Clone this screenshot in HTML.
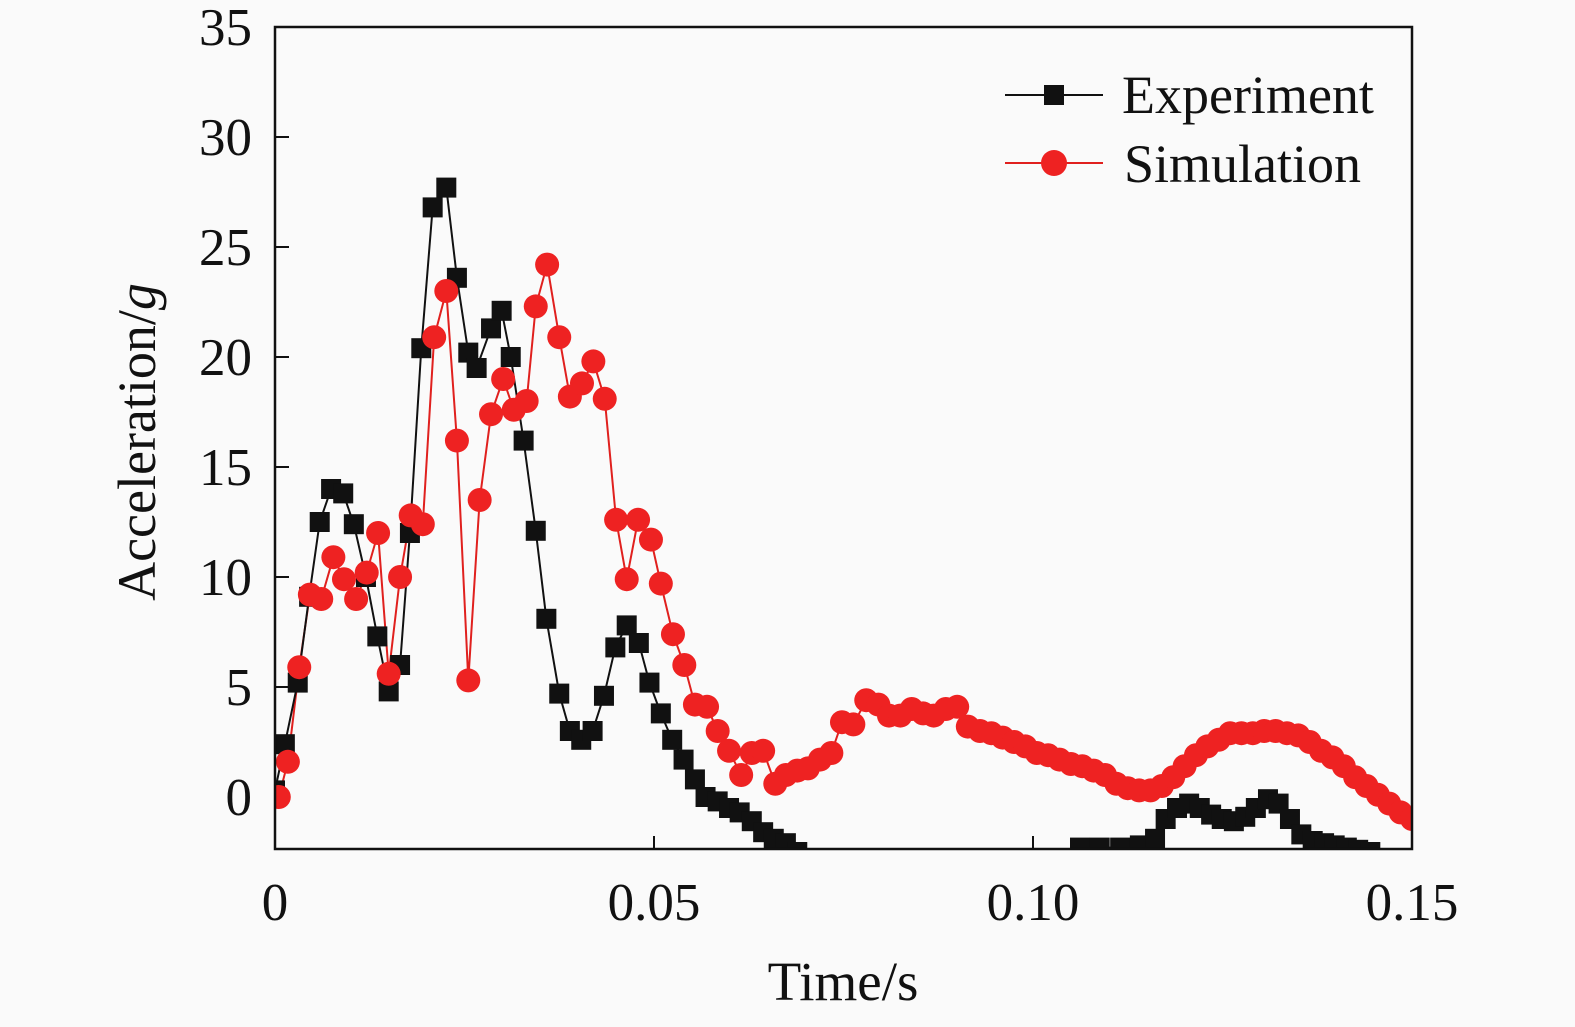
<!DOCTYPE html>
<html><head><meta charset="utf-8"><style>
body{margin:0;background:#fafafa;}
svg text{font-family:"Liberation Serif",serif;fill:#111;}
</style></head><body>
<svg id="chart" width="1575" height="1022" xmlns="http://www.w3.org/2000/svg">
<defs><clipPath id="pc"><rect x="275" y="27" width="1137" height="822"/></clipPath></defs>
<g id="axes"></g>
<g id="series" clip-path="url(#pc)"></g>
<rect x="275" y="27" width="1137" height="822" fill="none" stroke="#111" stroke-width="2.5"/>
<g>
 <g>
  <line x1="1005" y1="95" x2="1103" y2="95" stroke="#111" stroke-width="2"/>
  <rect x="1044" y="85" width="20" height="20" fill="#111"/>
  <text x="1122" y="113" font-size="54">Experiment</text>
 </g>
 <g>
  <line x1="1005" y1="163" x2="1103" y2="163" stroke="#e0201e" stroke-width="2"/>
  <circle cx="1054" cy="163" r="13" fill="#ee2222"/>
  <text x="1124" y="182" font-size="54">Simulation</text>
 </g>
</g>
<text x="843" y="1000" font-size="55" text-anchor="middle">Time/s</text>
<text transform="translate(155,442) rotate(-90)" font-size="54" text-anchor="middle">Acceleration/<tspan font-style="italic">g</tspan></text>
</svg>
<script>
const xTicks=[0,0.05,0.10,0.15];
const xTickLabels=["0","0.05","0.10","0.15"];
const yTicks=[0,5,10,15,20,25,30,35];
const yTickLabels=["0","5","10","15","20","25","30","35"];
const expT=[0,1.3,3.0,4.5,5.9,7.4,9.0,10.4,12.0,13.5,15.0,16.5,17.8,19.3,20.8,22.6,24.0,25.5,26.6,28.5,29.9,31.1,32.8,34.4,35.8,37.5,38.9,40.4,41.9,43.4,44.9,46.4,48.0,49.4,50.9,52.4,53.9,55.4,56.8,58.4,59.9,61.3,62.9,64.4,65.8,67.4,68.9,70.5,104.5,106.2,108.8,111.5,114.1,116.1,117.5,119,120.6,122,123.5,124.9,126.5,128,129.4,131,132.4,133.9,135.4,136.9,138.4,139.8,141.4,142.9,144.5];
const expV=[0.3,2.4,5.2,9.1,12.5,14,13.8,12.4,10,7.3,4.8,6,12,20.4,26.8,27.7,23.6,20.2,19.5,21.3,22.1,20,16.2,12.1,8.1,4.7,3,2.6,3,4.6,6.8,7.8,7,5.2,3.8,2.6,1.7,0.8,0,-0.2,-0.5,-0.7,-1.1,-1.6,-1.9,-2.1,-2.5,-3.5,-3.5,-2.3,-2.3,-2.3,-2.2,-1.9,-1,-0.5,-0.3,-0.5,-0.8,-1,-1.1,-0.9,-0.5,-0.1,-0.3,-1,-1.7,-2,-2.1,-2.2,-2.3,-2.4,-2.5];
const simT=[0.5,1.7,3.2,4.6,6.1,7.7,9.1,10.7,12.1,13.6,15.0,16.5,17.9,19.5,21.0,22.6,24.0,25.5,27.0,28.5,30.1,31.5,33.2,34.4,35.9,37.5,38.9,40.5,42.0,43.5,45.0,46.4,47.9,49.6,50.9,52.5,54.0,55.4,57.0,58.4,59.9,61.5,62.9,64.4,66.0,67.4,68.9,70.3,71.9,73.4,74.8,76.3,78.0,79.6,81.0,82.5,84.0,85.5,86.9,88.5,90.0,91.4,93.0,94.5,96.0,97.5,99.0,100.5,102.0,103.5,105.0,106.5,108.0,109.5,111.0,112.5,114.0,115.5,117.0,118.5,120.0,121.5,123.0,124.5,126.0,127.5,129.0,130.5,132.0,133.5,135.0,136.5,138.0,139.5,141.0,142.5,144.0,145.5,147.0,148.5,150.0];
const simV=[0,1.6,5.9,9.2,9,10.9,9.9,9,10.2,12,5.6,10,12.8,12.4,20.9,23,16.2,5.3,13.5,17.4,19,17.6,18,22.3,24.2,20.9,18.2,18.8,19.8,18.1,12.6,9.9,12.6,11.7,9.7,7.4,6,4.2,4.1,3,2.1,1,2,2.1,0.6,1,1.2,1.3,1.7,2,3.4,3.3,4.4,4.2,3.7,3.7,4,3.8,3.7,4,4.1,3.2,3,2.9,2.7,2.5,2.3,2.0,1.9,1.7,1.5,1.4,1.2,1.0,0.6,0.4,0.3,0.3,0.5,0.9,1.4,1.9,2.3,2.6,2.9,2.9,2.9,3.0,3.0,2.9,2.8,2.5,2.1,1.8,1.4,0.9,0.5,0.1,-0.3,-0.7,-1.0];
const NS="http://www.w3.org/2000/svg";
const X=t=>275+t/0.15*1137;
const Y=v=>797-v*22;
function mk(tag,attrs,parent){const e=document.createElementNS(NS,tag);for(const k in attrs)e.setAttribute(k,attrs[k]);parent.appendChild(e);return e;}
const axes=document.getElementById('axes'),ser=document.getElementById('series');
xTicks.forEach((t,i)=>{
 const l=mk('line',{x1:X(t),x2:X(t),y1:849,y2:836,stroke:'#111','stroke-width':2},axes);
 
 
 const tx=mk('text',{x:X(t),y:920,'font-size':53,'text-anchor':'middle'},axes);tx.textContent=xTickLabels[i];
 
 
});
yTicks.forEach((v,i)=>{
 const l=mk('line',{x1:275,x2:289,y1:Y(v),y2:Y(v),stroke:'#111','stroke-width':2},axes);
 
 
 const tx=mk('text',{x:252,y:Y(v)+18,'font-size':53,'text-anchor':'end'},axes);tx.textContent=yTickLabels[i];
 
 
});
const simPts=simT.map((t,i)=>X(t/1000)+','+Y(simV[i])).join(' ');
const sl=mk('polyline',{points:simPts,fill:'none',stroke:'#e0201e','stroke-width':2},ser);


const expPts=expT.map((t,i)=>X(t/1000)+','+Y(expV[i])).join(' ');
const el=mk('polyline',{points:expPts,fill:'none',stroke:'#111','stroke-width':2},ser);


expT.forEach((t,i)=>{const r=mk('rect',{x:X(t/1000)-10,y:Y(expV[i])-10,width:20,height:20,fill:'#111'},ser);
 
 });
simT.forEach((t,i)=>{const c=mk('circle',{cx:X(t/1000),cy:Y(simV[i]),r:12,fill:'#ee2222'},ser);
 
 });
</script>
</body></html>
